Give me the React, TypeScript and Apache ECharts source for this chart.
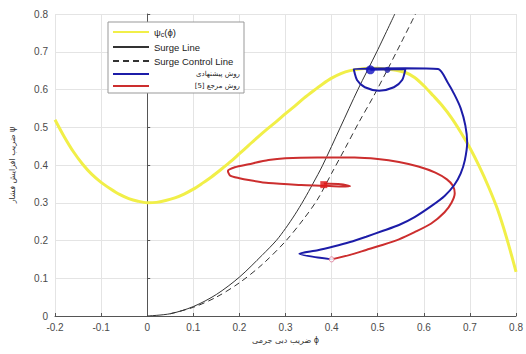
import React, { useEffect, useRef } from 'react';
import * as echarts from 'echarts';

const xRange = [-0.2, 0.8];
const yRange = [0, 0.8];
const tickStep = 0.1;

const seriesNames = ['ψc(ϕ)', 'Surge Line', 'Surge Control Line', 'روش پیشنهادی', 'روش مرجع [5]'];
const xAxisTitle = 'ضریب دبی جرمی ϕ';
const yAxisTitle = 'ضریب افزایش فشار ψ';

const compressorCurve: [number, number][] = [
  [-0.2, 0.52], [-0.18, 0.475], [-0.16, 0.435], [-0.14, 0.402], [-0.12, 0.375], [-0.1, 0.354],
  [-0.08, 0.337], [-0.06, 0.322], [-0.04, 0.311], [-0.02, 0.304], [0, 0.3], [0.02, 0.301],
  [0.04, 0.306], [0.06, 0.313], [0.08, 0.323], [0.1, 0.336], [0.12, 0.352], [0.14, 0.369],
  [0.16, 0.388], [0.18, 0.408], [0.2, 0.43], [0.22, 0.452], [0.24, 0.474], [0.26, 0.495],
  [0.28, 0.515], [0.3, 0.536], [0.32, 0.556], [0.34, 0.577], [0.36, 0.596], [0.38, 0.614],
  [0.4, 0.63], [0.42, 0.642], [0.44, 0.65], [0.46, 0.654], [0.48, 0.656], [0.5, 0.656],
  [0.52, 0.654], [0.54, 0.651], [0.56, 0.645], [0.58, 0.632], [0.6, 0.61], [0.62, 0.584],
  [0.64, 0.557], [0.66, 0.525], [0.68, 0.487], [0.7, 0.445], [0.72, 0.397], [0.74, 0.343],
  [0.76, 0.282], [0.78, 0.205], [0.8, 0.117],
];

const surgeLine: [number, number][] = [
  [0, 0], [0.05, 0.006], [0.1, 0.025], [0.15, 0.057], [0.2, 0.103], [0.25, 0.162], [0.28, 0.2],
  [0.3, 0.232], [0.32, 0.268], [0.34, 0.308], [0.36, 0.352], [0.38, 0.398], [0.419, 0.5],
  [0.457, 0.6], [0.498, 0.7], [0.537, 0.8],
];

const surgeControlLine: [number, number][] = [
  [0.05, 0.006], [0.1, 0.023], [0.15, 0.05], [0.2, 0.088], [0.25, 0.137], [0.3, 0.198],
  [0.34, 0.258], [0.37, 0.31], [0.4, 0.378], [0.43, 0.446], [0.46, 0.515], [0.49, 0.58],
  [0.52, 0.65], [0.55, 0.722], [0.582, 0.8],
];

const proposedPath: [number, number][] = [
  [0.4, 0.15], [0.33, 0.165], [0.37, 0.174], [0.404, 0.184], [0.44, 0.196], [0.475, 0.21],
  [0.51, 0.225], [0.546, 0.241], [0.58, 0.262], [0.616, 0.291], [0.645, 0.318], [0.666, 0.347],
  [0.68, 0.378], [0.689, 0.413], [0.694, 0.46], [0.69, 0.505], [0.68, 0.55], [0.667, 0.585],
  [0.652, 0.618], [0.631, 0.654], [0.56, 0.656], [0.448, 0.654], [0.455, 0.625], [0.472, 0.606],
  [0.503, 0.597], [0.535, 0.606], [0.553, 0.625], [0.56, 0.654], [0.484, 0.652],
];

const referencePath: [number, number][] = [
  [0.4, 0.15], [0.44, 0.162], [0.475, 0.175], [0.51, 0.188], [0.546, 0.203], [0.58, 0.222],
  [0.616, 0.245], [0.645, 0.275], [0.66, 0.3], [0.667, 0.325], [0.663, 0.345], [0.65, 0.362],
  [0.625, 0.38], [0.588, 0.396], [0.546, 0.408], [0.5, 0.416], [0.45, 0.42], [0.369, 0.42],
  [0.3, 0.418], [0.263, 0.413], [0.22, 0.402], [0.19, 0.394], [0.175, 0.384], [0.18, 0.372],
  [0.2, 0.365], [0.22, 0.36], [0.263, 0.352], [0.334, 0.347], [0.383, 0.345], [0.42, 0.343],
  [0.44, 0.344], [0.42, 0.349], [0.383, 0.351],
];

const proposedFinal: [number, number][] = [[0.484, 0.652]];
const proposedMid: [number, number][] = [[0.521, 0.652]];
const referenceFinal: [number, number][] = [[0.383, 0.348]];
const initialPoint: [number, number][] = [[0.4, 0.15]];

const fmt = (v: number) => (Math.abs(v) < 1e-9 ? '0' : String(parseFloat(v.toFixed(1))));

export default function App() {
  const ref = useRef<HTMLDivElement>(null);
  useEffect(() => {
    const chart = echarts.init(ref.current!, null, { renderer: 'svg' });
    const axisCommon = {
      type: 'value' as const,
      interval: tickStep,
      axisLine: { show: true, lineStyle: { color: '#555', width: 1 } },
      axisTick: { show: true, inside: true, length: 3, lineStyle: { color: '#555' } },
      splitLine: { show: true, lineStyle: { color: '#e4e4e4', width: 1 } },
      axisLabel: { color: '#4a4a4a', fontSize: 10, fontFamily: 'Liberation Sans', formatter: fmt },
      nameTextStyle: { color: '#333', fontSize: 8, fontFamily: 'DejaVu Sans' },
    };
    chart.setOption({
      animation: false,
      backgroundColor: '#fff',
      grid: { left: 48, right: 6, top: 14, bottom: 38, containLabel: false },
      xAxis: {
        ...axisCommon,
        min: xRange[0], max: xRange[1],
        axisLabel: { ...axisCommon.axisLabel, margin: 6 },
        name: xAxisTitle, nameLocation: 'middle', nameGap: 19,
      },
      yAxis: {
        ...axisCommon,
        min: yRange[0], max: yRange[1],
        axisLabel: { ...axisCommon.axisLabel, margin: 7 },
        name: yAxisTitle, nameLocation: 'middle', nameGap: 39, nameRotate: 90,
      },
      legend: {
        show: true,
        orient: 'vertical',
        left: 108, top: 22,
        itemWidth: 36, itemHeight: 10, itemGap: 4,
        padding: [5, 4, 3, 4],
        borderColor: '#999', borderWidth: 1, backgroundColor: '#fff',
        itemStyle: { opacity: 0, borderWidth: 0 },
        data: seriesNames,
        textStyle: {
          fontSize: 9.5, color: '#222', fontFamily: 'Liberation Sans',
          rich: {
            a: { fontSize: 9.5, color: '#222', fontFamily: 'Liberation Sans' },
            s: { fontSize: 7, color: '#222', padding: [5, 0, 0, 0], fontFamily: 'Liberation Sans' },
            p: { fontSize: 7, color: '#222', width: 86, align: 'right', fontFamily: 'DejaVu Sans' },
          },
        },
        formatter: (name: string) => {
          if (name === seriesNames[0]) return '{a|ψ}{s|c}{a|(ϕ)}';
          if (name === seriesNames[3] || name === seriesNames[4]) return `{p|${name}}`;
          return name;
        },
      },
      series: [
        { name: seriesNames[0], type: 'line', data: compressorCurve, symbol: 'none', smooth: 0.3,
          lineStyle: { color: '#f1ef48', width: 3 }, itemStyle: { color: '#f1ef48' }, z: 2 },
        { name: seriesNames[1], type: 'line', data: surgeLine, symbol: 'none', smooth: 0.3,
          lineStyle: { color: '#333', width: 1 }, itemStyle: { color: '#333' }, z: 3 },
        { name: seriesNames[2], type: 'line', data: surgeControlLine, symbol: 'none', smooth: 0.3,
          lineStyle: { color: '#333', width: 1, type: [6, 4] }, itemStyle: { color: '#333' }, z: 3 },
        { name: seriesNames[3], type: 'line', data: proposedPath, symbol: 'none', smooth: 0.25,
          lineStyle: { color: '#1c1ca8', width: 2 }, itemStyle: { color: '#1c1ca8' }, z: 5 },
        { name: seriesNames[4], type: 'line', data: referencePath, symbol: 'none', smooth: 0.25,
          lineStyle: { color: '#cc2e2e', width: 2 }, itemStyle: { color: '#cc2e2e' }, z: 4 },
        { name: 'proposedFinal', type: 'scatter', data: proposedFinal, symbolSize: 9,
          itemStyle: { color: '#1010c0' }, z: 6 },
        { name: 'proposedMid', type: 'scatter', data: proposedMid, symbolSize: 6,
          itemStyle: { color: '#1c1ca8' }, z: 6 },
        { name: 'referenceFinal', type: 'scatter', data: referenceFinal, symbol: 'rect', symbolSize: 7,
          itemStyle: { color: '#e01818' }, z: 6 },
        { name: 'initialPoint', type: 'scatter', data: initialPoint, symbolSize: 5,
          itemStyle: { color: '#fff', borderColor: '#d86a8a', borderWidth: 1 }, z: 6 },
      ],
    });
    return () => chart.dispose();
  }, []);
  return (
    <div
      ref={ref}
      style={{ position: 'fixed', left: 0, top: 0, width: 526, height: 354, background: '#fff' }}
    />
  );
}
